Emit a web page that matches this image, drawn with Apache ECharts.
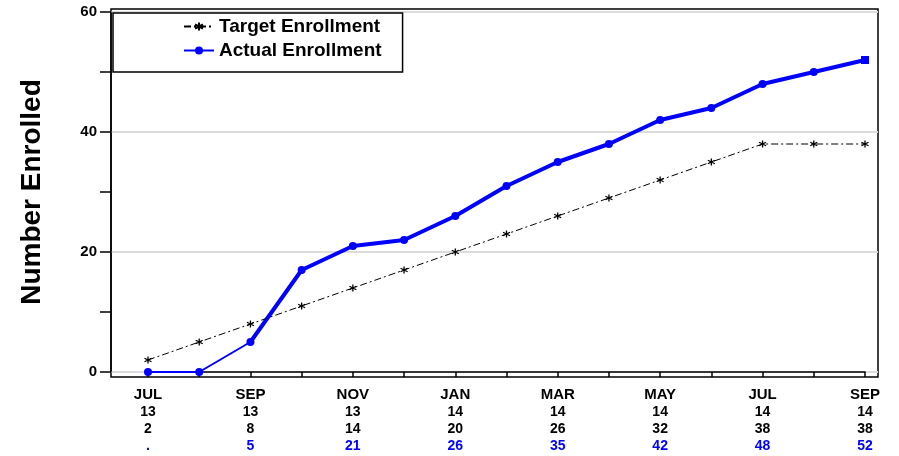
<!DOCTYPE html>
<html><head><meta charset="utf-8">
<script src="https://cdn.jsdelivr.net/npm/echarts@6/dist/echarts.min.js"></script>
<style>html,body{margin:0;padding:0;background:#fff}#c{width:899px;height:456px}</style>
</head><body><div id="c"></div>
<script>
const months = ['JUL','AUG','SEP','OCT','NOV','DEC','JAN','FEB','MAR','APR','MAY','JUN','JUL','AUG','SEP'];
const years  = ['13','13','13','13','13','13','14','14','14','14','14','14','14','14','14'];
const target = [2,5,8,11,14,17,20,23,26,29,32,35,38,38,38];
const actual = [0,0,5,17,21,22,26,31,35,38,42,44,48,50,52];
const yTicks = [0,20,40,60];

const FONT = '"Liberation Sans", Arial, sans-serif';
const BLUE = '#0000ff';
const categories = months.map((m,i)=>m+' '+years[i]);
const asterisk = 'path://M0,-5L0,5M-4.33,-2.5L4.33,2.5M-4.33,2.5L4.33,-2.5';

const chart = echarts.init(document.getElementById('c'), null, {renderer:'canvas'});
chart.setOption({
  animation:false,
  backgroundColor:'#fff',
  textStyle:{fontFamily:FONT},
  grid:[
    {left:111, top:9, right:21, bottom:79, show:true, borderColor:'#000', borderWidth:1.5, backgroundColor:'transparent', z:0},
    {left:148, top:12, right:34, bottom:84},
    {left:111, top:12, right:21, bottom:84}
  ],
  legend:{
    orient:'vertical', left:113, top:13,
    padding:[4,21,12,70], borderColor:'#000', borderWidth:1.5,
    itemWidth:30, itemHeight:10, itemGap:5,
    data:['Target Enrollment','Actual Enrollment'],
    textStyle:{fontSize:19, fontWeight:'bold', color:'#000', fontFamily:FONT}
  },
  xAxis:[
    {gridIndex:0, type:'value', show:false, min:0, max:1},
    {gridIndex:1, type:'category', data:categories, boundaryGap:false, offset:5,
     axisLine:{show:true, lineStyle:{color:'#000', width:1.5}},
     axisTick:{show:true, length:5, interval:0, lineStyle:{color:'#000', width:1.5}},
     axisLabel:{interval:0, margin:9, color:'#000',
       formatter:(v,i)=> i%2!==0 ? '' :
         `{m|${months[i]}}\n{n|${years[i]}}\n{n|${target[i]}}\n{b|${actual[i]===0?'.':actual[i]}}`,
       rich:{
         m:{fontSize:15, fontWeight:'bold', color:'#000', lineHeight:18, fontFamily:FONT},
         n:{fontSize:14, fontWeight:'bold', color:'#000', lineHeight:17, fontFamily:FONT},
         b:{fontSize:14, fontWeight:'bold', color:BLUE, lineHeight:17, fontFamily:FONT}
       }},
     splitLine:{show:false}},
    {gridIndex:2, type:'value', show:false, min:0, max:1}
  ],
  yAxis:[
    {gridIndex:0, type:'value', show:false, min:0, max:1},
    {gridIndex:1, type:'value', min:0, max:60, interval:20, offset:37,
     name:'Number Enrolled', nameLocation:'middle', nameGap:65,
     nameTextStyle:{fontSize:28, fontWeight:'bold', color:'#000', fontFamily:FONT},
     axisLine:{show:true, lineStyle:{color:'#000', width:1.5}},
     axisTick:{show:true, length:11, lineStyle:{color:'#000', width:1.5}},
     minorTick:{show:true, splitNumber:2, length:11, lineStyle:{color:'#000', width:1.5}},
     axisLabel:{margin:14, fontSize:15, fontWeight:'bold', color:'#000', fontFamily:FONT,
       formatter:v=> yTicks.includes(v) ? String(v) : ''},
     splitLine:{show:false}},
    {gridIndex:2, type:'value', min:0, max:60, interval:20,
     axisLine:{show:false}, axisTick:{show:false}, axisLabel:{show:false},
     splitLine:{show:true, lineStyle:{color:'#dcdcdc', width:2}}}
  ],
  series:[
    {name:'Target Enrollment', type:'line', xAxisIndex:1, yAxisIndex:1, data:target,
     symbol:asterisk, symbolSize:7, showAllSymbol:true, z:3,
     lineStyle:{color:'#000', width:1, type:[7,3,2,3]},
     itemStyle:{color:'#000', borderColor:'#000', borderWidth:1.3}},
    {name:'Actual Enrollment', type:'line', xAxisIndex:1, yAxisIndex:1,
     data:actual.map((v,i)=> i===actual.length-1 ? {value:v, symbol:'rect'} : v),
     symbol:'circle', symbolSize:8, showAllSymbol:true, z:4,
     lineStyle:{color:BLUE, width:2},
     itemStyle:{color:BLUE}},
    {name:'actual-thick', type:'line', xAxisIndex:1, yAxisIndex:1,
     data:actual.map((v,i)=> i>=2 ? v : '-'),
     symbol:'none', z:2, silent:true,
     lineStyle:{color:BLUE, width:4}}
  ]
});
</script></body></html>
